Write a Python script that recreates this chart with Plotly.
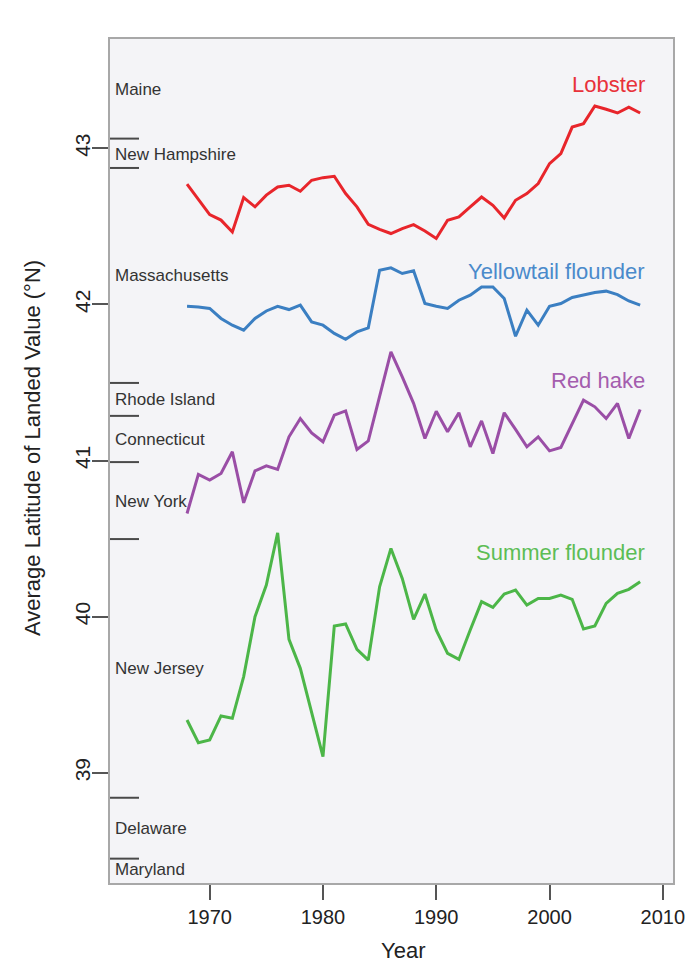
import plotly.graph_objects as go

years = list(range(1968, 2009))

lobster = [42.77, 42.67, 42.575, 42.54, 42.464, 42.684, 42.625, 42.70, 42.752, 42.763,
           42.725, 42.795, 42.812, 42.821, 42.71, 42.625, 42.513, 42.481, 42.454, 42.486,
           42.511, 42.47, 42.422, 42.539, 42.56, 42.625, 42.688, 42.635, 42.554, 42.667,
           42.71, 42.774, 42.902, 42.966, 43.136, 43.158, 43.271, 43.25, 43.226, 43.264, 43.226]

yellowtail = [41.988, 41.984, 41.974, 41.91, 41.867, 41.835, 41.91, 41.958, 41.988, 41.967,
              41.995, 41.888, 41.867, 41.814, 41.777, 41.824, 41.85, 42.219, 42.234, 42.198,
              42.215, 42.006, 41.988, 41.974, 42.027, 42.059, 42.112, 42.112, 42.038, 41.796,
              41.963, 41.867, 41.988, 42.006, 42.044, 42.059, 42.076, 42.085, 42.063, 42.022, 41.995]

red_hake = [40.661, 40.911, 40.875, 40.917, 41.056, 40.729, 40.934, 40.966, 40.943, 41.152,
            41.269, 41.177, 41.12, 41.291, 41.318, 41.071, 41.126, 41.408, 41.696, 41.536,
            41.366, 41.141, 41.316, 41.184, 41.306, 41.088, 41.254, 41.045, 41.306, 41.199,
            41.088, 41.152, 41.062, 41.084, 41.238, 41.387, 41.344, 41.269, 41.366, 41.141, 41.327]

summer_flounder = [39.338, 39.193, 39.21, 39.364, 39.349, 39.616, 40.0, 40.202, 40.537, 39.855,
                   39.669, 39.381, 39.103, 39.94, 39.953, 39.791, 39.722, 40.191, 40.437, 40.245,
                   39.983, 40.145, 39.914, 39.765, 39.726, 39.914, 40.096, 40.059, 40.145, 40.17,
                   40.074, 40.117, 40.117, 40.138, 40.111, 39.921, 39.94, 40.085, 40.149, 40.175, 40.224]

series_names = ["Lobster", "Yellowtail flounder", "Red hake", "Summer flounder"]
series_label_lat = [43.41, 42.214, 41.51, 40.409]

state_names = ["Maine", "New Hampshire", "Massachusetts", "Rhode Island", "Connecticut",
               "New York", "New Jersey", "Delaware", "Maryland"]
state_label_lat = [43.378, 42.962, 42.187, 41.393, 41.137, 40.736, 39.665, 38.64, 38.378]
state_boundaries = [43.062, 42.874, 41.497, 41.286, 40.99, 40.497, 38.84, 38.45]

x_ticks = [1970, 1980, 1990, 2000, 2010]
y_ticks = [39, 40, 41, 42, 43]

line_colors = ["#e8252b", "#3b7fc2", "#9a4ea6", "#4cb648"]
label_colors = ["#e8323a", "#4a8acb", "#a45dae", "#5cbd55"]

FONT = "Liberation Sans, Arial, sans-serif"

fig = go.Figure()
for vals, col, name in zip([lobster, yellowtail, red_hake, summer_flounder], line_colors, series_names):
    fig.add_trace(go.Scatter(x=years, y=vals, mode="lines", name=name,
                             line=dict(color=col, width=3), showlegend=False))

annotations = []
for name, lat, col in zip(series_names, series_label_lat, label_colors):
    annotations.append(dict(x=2008.6, y=lat, xref="x", yref="y", text=name, showarrow=False,
                            xanchor="right", yanchor="middle",
                            font=dict(family=FONT, size=22, color=col)))
for name, lat in zip(state_names, state_label_lat):
    annotations.append(dict(x=0.006, y=lat, xref="paper", yref="y", text=name, showarrow=False,
                            xanchor="left", yanchor="middle",
                            font=dict(family=FONT, size=17, color="#333333")))
annotations.append(dict(x=-0.1385, y=0.5154, xref="paper", yref="paper",
                        text="Average Latitude of Landed Value (°N)", showarrow=False,
                        xanchor="center", yanchor="middle",
                        textangle=-90, font=dict(family=FONT, size=22, color="#222222")))
annotations.append(dict(x=0.5204, y=-0.0794, xref="paper", yref="paper", text="Year",
                        showarrow=False, xanchor="center", yanchor="middle",
                        font=dict(family=FONT, size=22, color="#222222")))

shapes = []
for b in state_boundaries:
    shapes.append(dict(type="line", xref="paper", yref="y", x0=0, x1=0.0515, y0=b, y1=b,
                       line=dict(color="#4a4a4a", width=2)))

fig.update_layout(
    width=690, height=956,
    margin=dict(l=102, r=25, t=31, b=81),
    paper_bgcolor="white",
    plot_bgcolor="#f4f4f7",
    annotations=annotations,
    shapes=shapes,
    font=dict(family=FONT, color="#222222"),
    xaxis=dict(range=[1961.2, 2010.9], tickvals=x_ticks, ticks="outside", ticklen=15,
               tickwidth=2, tickcolor="#555555", showline=True, linecolor="#a8a8a8", linewidth=1.5,
               mirror=True, showgrid=False, zeroline=False,
               tickfont=dict(family=FONT, size=20, color="#222222")),
    yaxis=dict(range=[38.294, 43.70], tickvals=y_ticks, ticks="outside", ticklen=16,
               tickwidth=2, tickcolor="#555555", showline=True, linecolor="#a8a8a8", linewidth=1.5,
               mirror=True, showgrid=False, zeroline=False, tickangle=-90,
               ticklabelstandoff=-6,
               tickfont=dict(family=FONT, size=21, color="#222222")),
)

fig.write_html("out.html")
